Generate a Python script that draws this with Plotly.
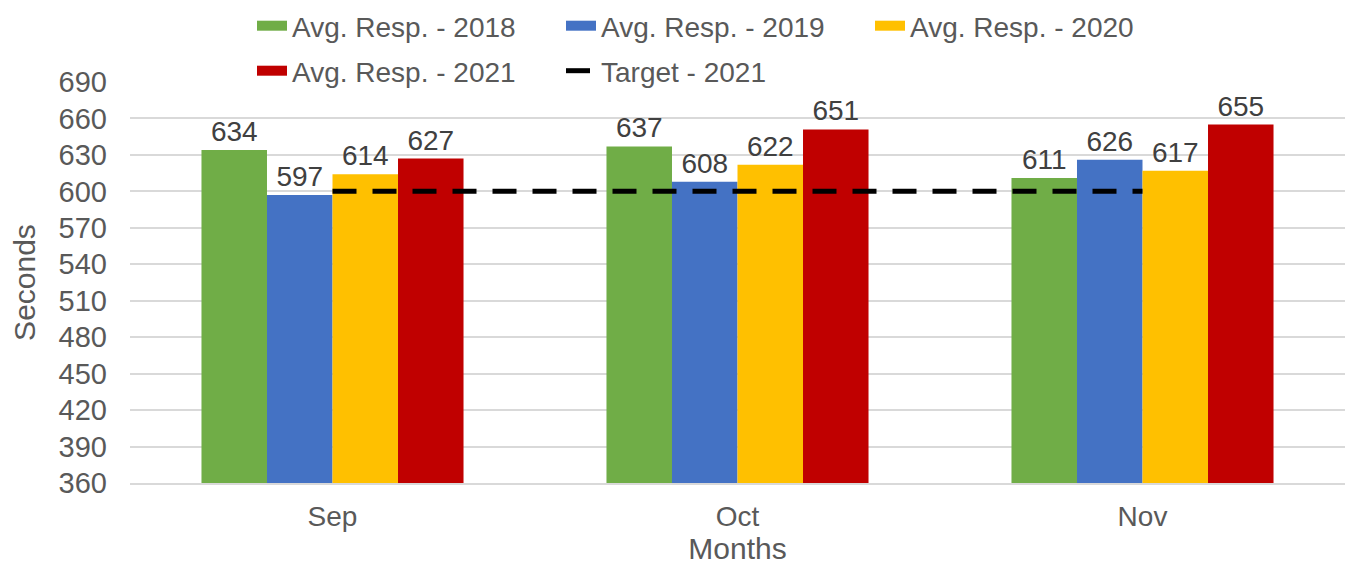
import plotly.graph_objects as go

months = ["Sep", "Oct", "Nov"]
resp_2018 = [634, 637, 611]
resp_2019 = [597, 608, 626]
resp_2020 = [614, 622, 617]
resp_2021 = [627, 651, 655]
target_2021 = [600, 600, 600]

series = [
    ("Avg. Resp. - 2018", resp_2018, "#70AD47", "legend"),
    ("Avg. Resp. - 2019", resp_2019, "#4472C4", "legend"),
    ("Avg. Resp. - 2020", resp_2020, "#FFC000", "legend"),
    ("Avg. Resp. - 2021", resp_2021, "#C00000", "legend2"),
]

FONT = "Liberation Sans, Arial, sans-serif"
fig = go.Figure()

for name, vals, color, lg in series:
    fig.add_trace(go.Bar(
        x=months, y=vals, name=name, marker_color=color,
        marker_line_width=0,
        text=[str(v) for v in vals], textposition="outside",
        textfont=dict(size=28, color="#404040", family=FONT),
        cliponaxis=False, showlegend=False,
    ))
    # legend swatch
    fig.add_trace(go.Scatter(
        x=[None], y=[None], mode="lines", name=name,
        line=dict(color=color, width=15), legend=lg,
    ))

fig.add_trace(go.Scatter(
    x=months, y=target_2021, mode="lines", name="Target - 2021",
    line=dict(color="black", width=5, dash="24px,16px"), legend="legend2",
))

legend_common = dict(orientation="h", xanchor="left", yanchor="middle",
                     xref="container", yref="container",
                     entrywidth=264, entrywidthmode="pixels",
                     font=dict(size=28, color="#595959", family=FONT),
                     bgcolor="rgba(0,0,0,0)")

fig.update_layout(
    width=1354, height=566,
    margin=dict(l=130, r=9, t=82, b=83, autoexpand=False),
    plot_bgcolor="white", paper_bgcolor="white",
    font=dict(family=FONT, color="#595959", size=28),
    barmode="group", bargap=0.353, bargroupgap=0,
    legend=dict(x=252 / 1354, y=1 - 26 / 566, **legend_common),
    legend2=dict(x=252 / 1354, y=1 - 71 / 566, **legend_common),
    xaxis=dict(
        title=dict(text="Months", font=dict(size=30, color="#595959"), standoff=6),
        tickfont=dict(size=28, color="#595959"),
        showline=True, linecolor="#d9d9d9", linewidth=1.5,
        ticks="", showgrid=False, automargin=False, ticklabelstandoff=8,
    ),
    yaxis=dict(
        title=dict(text="Seconds", font=dict(size=30, color="#595959"), standoff=14),
        range=[360, 690], dtick=30, tick0=360,
        tickfont=dict(size=29, color="#595959"),
        showgrid=True, gridcolor="#d9d9d9", gridwidth=1.5,
        zeroline=False, ticks="", automargin=False, ticklabelstandoff=22,
    ),
)

fig.write_html("out.html", config={"displayModeBar": False},
               post_script="document.body.style.margin='0';document.body.style.overflow='hidden';")
